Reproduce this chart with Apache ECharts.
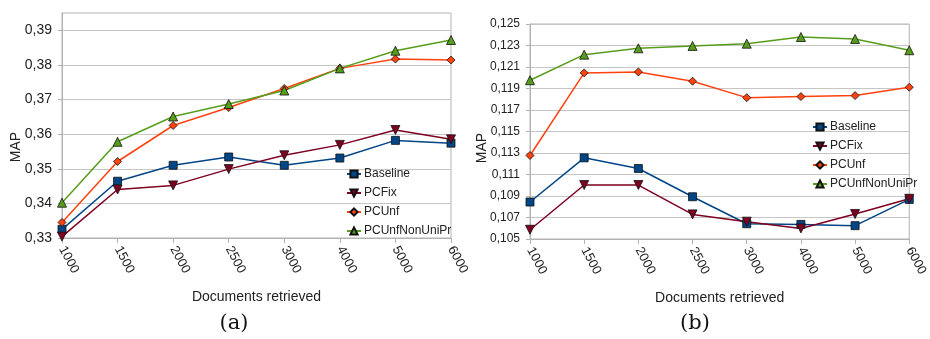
<!DOCTYPE html>
<html>
<head>
<meta charset="utf-8">
<script src="https://cdn.jsdelivr.net/npm/echarts@6/dist/echarts.min.js"></script>
<style>
html,body{margin:0;padding:0;background:#fff;}
#c{width:930px;height:339px;}
</style>
</head>
<body>
<div id="c"></div>
<script>
const categories = ['1000','1500','2000','2500','3000','4000','5000','6000'];
const seriesNames = ['Baseline','PCFix','PCUnf','PCUnfNonUniPr'];

const baselineA = [0.3325, 0.3464, 0.3510, 0.3534, 0.3510, 0.3531, 0.3582, 0.3574];
const pcfixA    = [0.3304, 0.3440, 0.3452, 0.3499, 0.3539, 0.3569, 0.3612, 0.3585];
const pcunfA    = [0.3345, 0.3521, 0.3625, 0.3677, 0.3732, 0.3790, 0.3817, 0.3814];
const nonuniA   = [0.3402, 0.3578, 0.3651, 0.3687, 0.3726, 0.3790, 0.3841, 0.3872];

const baselineB = [0.10844, 0.11255, 0.11156, 0.10893, 0.10642, 0.10636, 0.10624, 0.10868];
const pcfixB    = [0.10586, 0.11002, 0.11002, 0.10729, 0.10661, 0.10598, 0.10732, 0.10874];
const pcunfB    = [0.11277, 0.12045, 0.12054, 0.11968, 0.11815, 0.11825, 0.11834, 0.11912];
const nonuniB   = [0.11977, 0.12215, 0.12274, 0.12296, 0.12317, 0.12379, 0.12361, 0.12256];

const yTicksA = [0.33, 0.34, 0.35, 0.36, 0.37, 0.38, 0.39];
const yTicksB = [0.105, 0.107, 0.109, 0.111, 0.113, 0.115, 0.117, 0.119, 0.121, 0.123, 0.125];

const colors = ['#004586', '#7e0021', '#ff420e', '#579d1c'];
const symbols = ['rect', 'triangle', 'diamond', 'triangle'];
const symRot = [0, 180, 0, 0];
const symSize = [8, 9, 8, 9];

const FONT = 'Liberation Sans, Arial, sans-serif';

function makeSeries(dataArr, axisIdx) {
  return dataArr.map((d, i) => ({
    name: seriesNames[i],
    type: 'line',
    xAxisIndex: axisIdx,
    yAxisIndex: axisIdx,
    data: d,
    symbol: symbols[i],
    symbolRotate: symRot[i],
    symbolSize: symSize[i],
    showAllSymbol: true,
    color: colors[i],
    lineStyle: { color: colors[i], width: 1.5 },
    itemStyle: { color: colors[i], borderColor: '#111', borderWidth: 0.8 },
    emphasis: { disabled: true },
    animation: false
  }));
}

function xAxis(gridIndex) {
  return {
    type: 'category',
    gridIndex: gridIndex,
    data: categories,
    boundaryGap: false,
    axisLine: { show: true, lineStyle: { color: '#b3b3b3' } },
    axisTick: { show: true, length: 5, lineStyle: { color: '#b3b3b3' } },
    axisLabel: { rotate: -62, margin: 9, fontSize: 13, color: '#222', fontFamily: FONT, interval: 0 },
    splitLine: { show: false },
    name: 'Documents retrieved',
    nameLocation: 'middle',
    nameGap: 52,
    nameTextStyle: { fontSize: 14, color: '#222', fontFamily: FONT }
  };
}

function yAxis(gridIndex, min, max, ticks, digits, fs) {
  return {
    type: 'value',
    gridIndex: gridIndex,
    min: min,
    max: max,
    axisLine: { show: true, lineStyle: { color: '#b3b3b3' } },
    axisTick: { show: true, length: 4, customValues: ticks, lineStyle: { color: '#b3b3b3' } },
    axisLabel: {
      customValues: ticks,
      margin: 10,
      fontSize: fs,
      color: '#222',
      fontFamily: FONT,
      formatter: v => v.toFixed(digits).replace('.', ',')
    },
    splitLine: { show: true, lineStyle: { color: '#c6c6c6', width: 1 } }
  };
}

function legend(left, top) {
  return {
    orient: 'vertical',
    left: left,
    top: top,
    itemWidth: 14,
    itemHeight: 9,
    itemGap: 7,
    padding: 0,
    icon: undefined,
    textStyle: { fontSize: 12, color: '#222', fontFamily: FONT, padding: [0, 0, 0, -2] },
    data: seriesNames,
    selectedMode: false
  };
}

const chart = echarts.init(document.getElementById('c'), null, { renderer: 'canvas' });
const legA = legend(346, 168);
const legB = legend(812, 121);
legB.textStyle = Object.assign({}, legA.textStyle);

chart.setOption({
  animation: false,
  backgroundColor: '#fff',
  grid: [
    { left: 62, top: 13, width: 389, height: 225, show: true, borderColor: '#b3b3b3', borderWidth: 1, containLabel: false },
    { left: 530, top: 24, width: 385, height: 215, show: true, borderColor: '#b3b3b3', borderWidth: 1, containLabel: false }
  ],
  xAxis: [xAxis(0), xAxis(1)],
  yAxis: [
    yAxis(0, 0.33, 0.395, yTicksA, 2, 14),
    yAxis(1, 0.105, 0.125, yTicksB, 3, 12)
  ],
  legend: [legA, legB],
  series: makeSeries([baselineA, pcfixA, pcunfA, nonuniA], 0)
    .concat(makeSeries([baselineB, pcfixB, pcunfB, nonuniB], 1)),
  graphic: [
    { type: 'text', x: 16, y: 147, rotation: Math.PI / 2,
      style: { text: 'MAP', fontSize: 14, fill: '#222', fontFamily: FONT, align: 'center', verticalAlign: 'middle' } },
    { type: 'text', x: 482, y: 148, rotation: Math.PI / 2,
      style: { text: 'MAP', fontSize: 14, fill: '#222', fontFamily: FONT, align: 'center', verticalAlign: 'middle' } },
    { type: 'text', x: 234, y: 324,
      style: { text: '(a)', fontSize: 21, fill: '#111', fontFamily: 'DejaVu Serif, serif', align: 'center', verticalAlign: 'middle' } },
    { type: 'text', x: 695, y: 324,
      style: { text: '(b)', fontSize: 21, fill: '#111', fontFamily: 'DejaVu Serif, serif', align: 'center', verticalAlign: 'middle' } }
  ]
});
</script>
</body>
</html>
